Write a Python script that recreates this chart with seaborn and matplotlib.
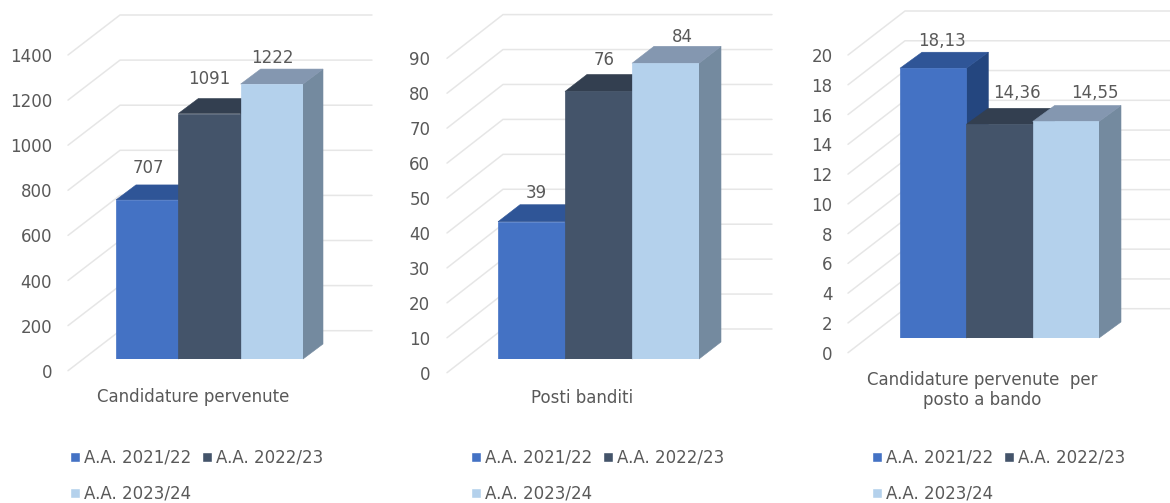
import matplotlib
matplotlib.use("Agg")
import matplotlib.pyplot as plt
from matplotlib.patches import Polygon, Patch
import pandas as pd
import seaborn as sns

W, H = 1170, 503

# Academic years shown in every panel
years = ["A.A. 2021/22", "A.A. 2022/23", "A.A. 2023/24"]

candidature = [707, 1091, 1222]
posti = [39, 76, 84]
rapporto = [18.13, 14.36, 14.55]
rapporto_labels = ["18,13", "14,36", "14,55"]

titles = ["Candidature pervenute", "Posti banditi", "Candidature pervenute  per\nposto a bando"]
tick_steps = [200, 10, 2]
tick_tops = [1400, 90, 20]

front_colors = ["#4472C4", "#44546A", "#B4D1EC"]
top_colors = ["#2F5597", "#333F50", "#8497B0"]
side_colors = ["#24467F", "#2B3848", "#748A9F"]
TEXT = "#595959"
GRID = "#E6E6E6"
FONT = 12

# Pixel layout per panel: bar span and scale, wall extent, depth, label nudges
layouts = [
    dict(bar_l=116, bar_r=303, base=359, bar_scale=0.225,
         wall_l=70, wall_b=120, wall_r=372, wall0=370.7, wall_top=55, lift=40, dx=20, dy=15,
         pad=13, title_x=193, title_y=397, legend_x=70,
         nudges=[(1, -17), (0, -20), (1, -11)]),
    dict(bar_l=498, bar_r=699, base=359, bar_scale=3.52,
         wall_l=449, wall_b=503, wall_r=772, wall0=372.7, wall_top=58.3, lift=43.7, dx=22, dy=17,
         pad=13.5, title_x=582, title_y=398, legend_x=471,
         nudges=[(5, -12), (6, -14), (17, -9)]),
    dict(bar_l=900, bar_r=1099, base=338, bar_scale=14.88,
         wall_l=850, wall_b=905, wall_r=1170, wall0=352.7, wall_top=55, lift=44, dx=22, dy=16,
         pad=12.5, title_x=982, title_y=390, legend_x=872,
         nudges=[(9, -11), (17, -15), (29, -12)]),
]

sns.set_theme(style="white")
plt.rcParams["font.family"] = ["DejaVu Sans"]

fig = plt.figure(figsize=(W / 100, H / 100), dpi=100, facecolor="white")


def px_axes(left, right, top, bottom, **kw):
    return fig.add_axes([left / W, 1 - bottom / H, (right - left) / W, (bottom - top) / H], **kw)


def draw_panel(values, labels, title, step, ymax, lay):
    scale = (lay["wall0"] - lay["wall_top"]) / ymax  # pixels per unit on the wall

    # Wall axes carry the value ticks and the receding gridlines
    wall = px_axes(lay["wall_l"], lay["wall_r"], lay["wall_top"], lay["wall0"], facecolor="none")
    wall.set_xlim(lay["wall_l"], lay["wall_r"])
    wall.set_ylim(0, ymax)
    ticks = list(range(0, ymax + step, step))
    wall.set_yticks(ticks)
    wall.set_xticks([])
    wall.tick_params(axis="y", length=0, pad=lay["pad"], labelsize=FONT, colors=TEXT)
    sns.despine(ax=wall, left=True, bottom=True)
    lift = lay["lift"] / scale
    for t in ticks:
        wall.plot([lay["wall_l"] - 2, lay["wall_b"], lay["wall_r"]], [t, t + lift, t + lift],
                  color=GRID, lw=1.1, clip_on=False, zorder=1)

    # Bar axes: seaborn draws the front faces, depth faces follow each bar's geometry
    bscale = lay["bar_scale"]
    ax = px_axes(lay["bar_l"], lay["bar_r"], lay["base"] - ymax * bscale, lay["base"], facecolor="none")
    df = pd.DataFrame({"anno": years, "valore": values, "gruppo": [title] * 3})
    sns.barplot(data=df, x="gruppo", y="valore", hue="anno", hue_order=years, palette=front_colors,
                width=1, dodge=True, saturation=1, legend=False, ax=ax, linewidth=0)
    ax.set_xlim(-0.5, 0.5)
    ax.set_ylim(0, ymax)
    ax.axis("off")
    px_x = (ax.get_xlim()[1] - ax.get_xlim()[0]) / (lay["bar_r"] - lay["bar_l"])  # data units per pixel
    ddx = lay["dx"] * px_x
    ddy = lay["dy"] / bscale
    for i, bar in enumerate(ax.patches[:3]):
        x0, x1, v = bar.get_x(), bar.get_x() + bar.get_width(), bar.get_height()
        z = 3 + i * 3
        bar.set_zorder(z + 2)
        bar.set_edgecolor(front_colors[i])
        bar.set_linewidth(0.5)
        ax.add_patch(Polygon([(x1, 0), (x1 + ddx, ddy), (x1 + ddx, v + ddy), (x1, v)],
                             closed=True, fc=side_colors[i], ec=side_colors[i], lw=0.4, zorder=z, clip_on=False))
        ax.add_patch(Polygon([(x0, v), (x0 + ddx, v + ddy), (x1 + ddx, v + ddy), (x1, v)],
                             closed=True, fc=top_colors[i], ec=top_colors[i], lw=0.4, zorder=z + 1, clip_on=False))
        nx, ny = lay["nudges"][i]
        ax.text((x0 + x1) / 2 + nx * px_x, v + ddy - ny / bscale, labels[i], ha="center", va="center",
                fontsize=FONT, color=TEXT, zorder=20, clip_on=False)

    fig.text(lay["title_x"] / W, 1 - lay["title_y"] / H, title, ha="center", va="center",
             fontsize=FONT, color=TEXT, linespacing=1.2)

    # Column-first filling: the third year wraps under the first
    handles = [Patch(fc=front_colors[i], label=years[i]) for i in (0, 2, 1)]
    fig.legend(handles=handles, ncol=2, frameon=False, loc="upper left",
               bbox_to_anchor=(lay["legend_x"] / W, 1 - 449 / H), fontsize=FONT, labelcolor=TEXT,
               handlelength=0.58, handleheight=0.55, handletextpad=0.25, columnspacing=0.68,
               labelspacing=1.05, borderpad=0, borderaxespad=0)


for vals, labs, ttl, st, top, lay in zip(
    [candidature, posti, rapporto],
    [[str(v) for v in candidature], [str(v) for v in posti], rapporto_labels],
    titles, tick_steps, tick_tops, layouts,
):
    draw_panel(vals, labs, ttl, st, top, lay)

fig.savefig("out.png", dpi=100, facecolor="white")
